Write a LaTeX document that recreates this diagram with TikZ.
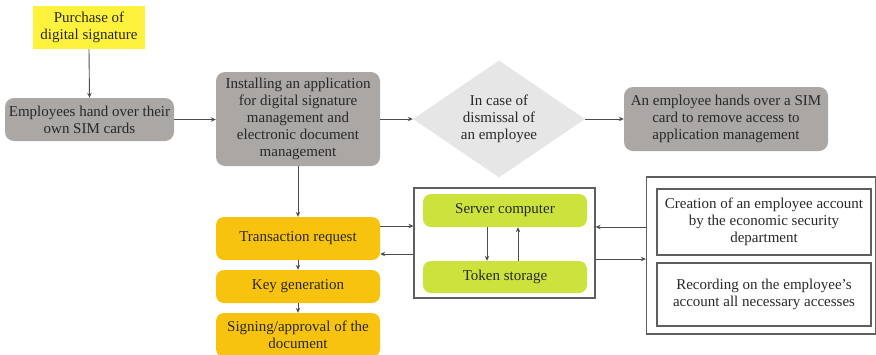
\documentclass[tikz,border=0pt]{standalone}
\usepackage{fontspec}
\setmainfont{Liberation Serif}
\usetikzlibrary{arrows.meta}
\usetikzlibrary{shapes.geometric}

\definecolor{boxgray}{RGB}{170,167,165}
\definecolor{lightgray}{RGB}{230,230,230}
\definecolor{signyellow}{RGB}{255,242,60}
\definecolor{steporange}{RGB}{247,195,15}
\definecolor{srvgreen}{RGB}{205,227,61}
\definecolor{linegray}{RGB}{77,77,77}
\definecolor{txtgray}{RGB}{40,40,40}

\tikzset{
  txt/.style={align=center, inner sep=0pt, text=txtgray, font=\fontsize{15}{16.8}\selectfont},
  greybox/.style={txt, fill=boxgray, rounded corners=9pt},
  yellowbox/.style={txt, fill=signyellow},
  orangebox/.style={txt, fill=steporange, rounded corners=8pt, minimum width=164},
  greenbox/.style={txt, fill=srvgreen, rounded corners=8pt, minimum width=164},
  framebox/.style={draw=linegray!90, line width=1.2pt, inner sep=0pt},
  textbox/.style={txt, draw=linegray!90, line width=1.2pt, minimum width=214},
  arr/.style={draw=linegray, line width=0.9pt, -{Stealth[length=5pt,width=4.5pt]}}
}

\begin{document}
\begin{tikzpicture}[x=1pt,y=-1pt]
\useasboundingbox (0,0) rectangle (876,354);

% top row
\node[yellowbox, minimum width=112, minimum height=43] (purchase) at (89,27.5) {Purchase of\\digital signature};
\node[greybox, minimum width=169, minimum height=43] (employees) at (89.5,119.5) {Employees hand over their\\own SIM cards};
\node[greybox, minimum width=164, minimum height=94] (installing) at (298,119) {Installing an application\\for digital signature\\management and\\electronic document\\management};
\node[diamond, fill=lightgray, minimum width=172, minimum height=117, inner sep=0pt] (dismissal) at (499,119) {};
\node[txt] (dismissaltext) at (dismissal) {In case of\\dismissal of\\an employee};
\node[greybox, minimum width=204, minimum height=64] (handsover) at (726,119) {An employee hands over a SIM\\card to remove access to\\application management};

% signing steps
\node[orangebox, minimum height=43] (request) at (298,238.5) {Transaction request};
\node[orangebox, minimum height=33] (keygen) at (298,286.5) {Key generation};
\node[orangebox, minimum height=44] (signing) at (298,335) {Signing/approval of the\\document};

% server part
\node[framebox, minimum width=181, minimum height=110] (srvframe) at (504.5,243) {};
\node[greenbox, minimum height=33] (server) at (505,210.5) {Server computer};
\node[greenbox, minimum height=32] (token) at (505,277) {Token storage};

% security department
\node[framebox, minimum width=229, minimum height=157] (secframe) at (761,255.5) {};
\node[textbox, minimum height=66] (creation) at (764,222) {Creation of an employee account\\by the economic security\\department};
\node[textbox, minimum height=63] (recording) at (764,294.5) {Recording on the employee's\\account all necessary accesses};

% connectors
\draw[arr] (purchase.south) -- (employees.north);
\draw[arr] (employees.east) -- (installing.west |- employees.east);
\draw[arr] (installing.east) -- (dismissal.west);
\draw[arr] (dismissal.east) -- (handsover.west);
\draw[arr] (installing.south) -- (request.north);
\draw[arr] (request.south) -- (keygen.north);
\draw[arr] (keygen.south) -- (signing.north);

\draw[arr] ([yshift=12.5pt]request.east) -- ([yshift=12.5pt]request.east -| srvframe.west);
\draw[arr] ([yshift=-15.5pt]request.east -| srvframe.west) -- ([yshift=-15.5pt]request.east);
\draw[arr] ([xshift=-18pt]server.south) -- ([xshift=-18pt]token.north);
\draw[arr] ([xshift=13pt]token.north) -- ([xshift=13pt]server.south);

\draw[arr] ([yshift=16pt]secframe.west |- srvframe.east) -- ([yshift=16pt]srvframe.east);
\draw[arr] ([yshift=-16pt]srvframe.east) -- ([yshift=-16pt]secframe.west |- srvframe.east);

\end{tikzpicture}
\end{document}
